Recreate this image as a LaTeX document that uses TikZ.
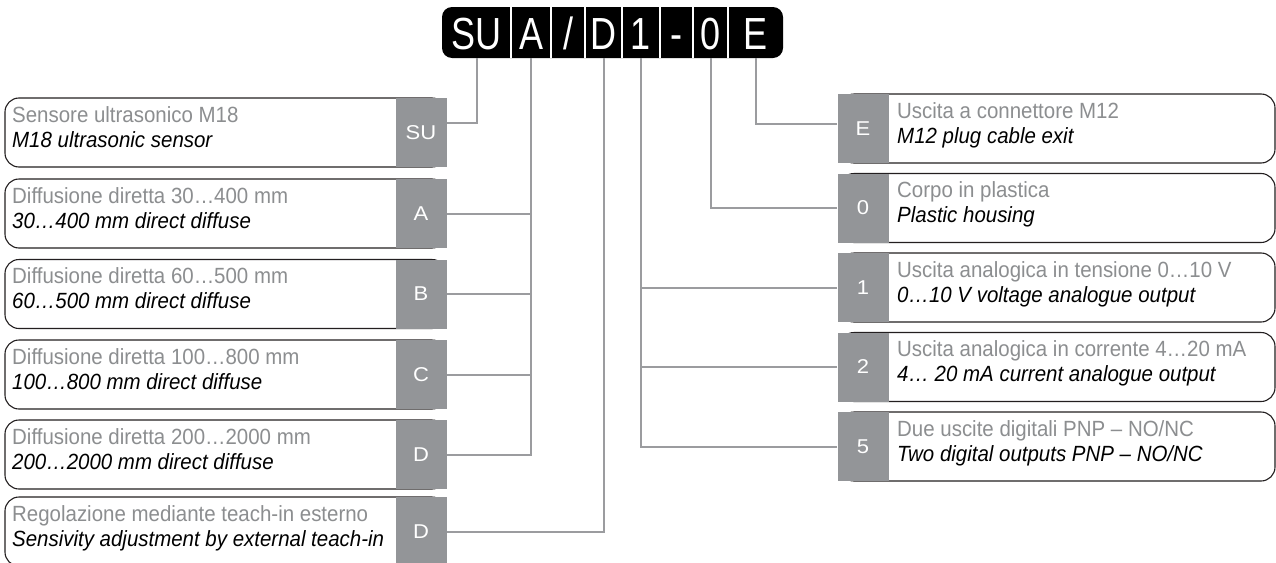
\documentclass[tikz,border=0pt]{standalone}
\usepackage{fontspec}
\setmainfont{Liberation Sans}
\newfontfamily\bodyfont[FakeStretch=0.93]{Liberation Sans}
\newfontfamily\hdrfont[FakeStretch=0.8]{Liberation Sans}
\newfontfamily\tagfont[FakeStretch=1.1]{Liberation Sans}
\usepackage{tikz}
\usepackage{xcolor}
\usetikzlibrary{positioning, calc}
\definecolor{tagGray}{HTML}{939598}
\definecolor{wireGray}{HTML}{9B9C9F}
\definecolor{itGray}{HTML}{8C8E90}
\definecolor{edgeDark}{HTML}{231F20}

\begin{document}
\begin{tikzpicture}[
  x=1pt, y=-1pt,
  hcell/.style={minimum height=51pt, inner sep=0pt, text=white, text height=33pt, text depth=0pt, font=\hdrfont\fontsize{45}{45}\selectfont},
  tag/.style={fill=tagGray, text=white, minimum width=51pt, minimum height=69pt, inner sep=0pt, font=\tagfont\fontsize{20}{20}\selectfont},
  lbox/.style={draw=edgeDark, line width=1.1pt, fill=white, rounded corners=14pt, minimum height=69pt, minimum width=441pt, inner sep=0pt},
  rbox/.style={lbox, minimum width=435pt},
  ita/.style={anchor=base west, inner sep=0pt, text=itGray, font=\bodyfont\fontsize{22}{22}\selectfont},
  eng/.style={anchor=base west, inner sep=0pt, font=\bodyfont\itshape\fontsize{22}{22}\selectfont},
  wire/.style={draw=wireGray, line width=2pt}
]
\useasboundingbox (0,0) rectangle (1276,562);

% Code header
\fill[black, rounded corners=10pt] (442,7) rectangle (783,58);
\node[hcell, minimum width=69pt] (hSU) at (476.5,32.5) {SU};
\node[hcell, minimum width=40pt] (hA) at (531,32.5) {A};
\node[hcell, minimum width=34pt] (hSl) at (568,32.5) {/};
\node[hcell, minimum width=37pt] (hD) at (603.5,32.5) {D};
\node[hcell, minimum width=38pt] (h1) at (641,32.5) {1};
\node[hcell, minimum width=33pt] (hDash) at (676.5,32.5) {-};
\node[hcell, minimum width=35pt] (h0) at (710.5,32.5) {0};
\node[hcell, minimum width=55pt] (hE) at (755.5,32.5) {E};
\draw[white, line width=2.5pt] (hSU.north east) -- (hSU.south east) (hA.north east) -- (hA.south east)
  (hSl.north east) -- (hSl.south east) (hD.north east) -- (hD.south east) (h1.north east) -- (h1.south east)
  (hDash.north east) -- (hDash.south east) (h0.north east) -- (h0.south east);

% Left column
\node[lbox] (bSU) at (225.5,132.5) {};
\node[tag] (tSU) at (421,132.5) {SU};
\node[ita] (iSU) at (12,122) {Sensore ultrasonico M18};
\node[eng] (eSU) at (12,147) {M18 ultrasonic sensor};

\node[lbox] (bA) at (225.5,213.5) {};
\node[tag] (tA) at (421,213.5) {A};
\node[ita] (iA) at (12,203) {Diffusione diretta 30…400 mm};
\node[eng] (eA) at (12,228) {30…400 mm direct diffuse};

\node[lbox] (bB) at (225.5,294) {};
\node[tag] (tB) at (421,294) {B};
\node[ita] (iB) at (12,283.5) {Diffusione diretta 60…500 mm};
\node[eng] (eB) at (12,308.5) {60…500 mm direct diffuse};

\node[lbox] (bC) at (225.5,374.5) {};
\node[tag] (tC) at (421,374.5) {C};
\node[ita] (iC) at (12,364) {Diffusione diretta 100…800 mm};
\node[eng] (eC) at (12,389) {100…800 mm direct diffuse};

\node[lbox] (bD) at (225.5,454.5) {};
\node[tag] (tD) at (421,454.5) {D};
\node[ita] (iD) at (12,444) {Diffusione diretta 200…2000 mm};
\node[eng] (eD) at (12,469) {200…2000 mm direct diffuse};

\node[lbox] (bTeach) at (225.5,531.5) {};
\node[tag] (tTeach) at (421,531.5) {D};
\node[ita] (iTeach) at (12,521) {Regolazione mediante teach-in esterno};
\node[eng] (eTeach) at (12,546) {Sensivity adjustment by external teach-in};

% Right column
\node[rbox] (bE) at (1057.5,128.5) {};
\node[tag] (tE) at (863,128.5) {E};
\node[ita] (iE) at (897,118) {Uscita a connettore M12};
\node[eng] (eE) at (897,143) {M12 plug cable exit};

\node[rbox] (b0) at (1057.5,208) {};
\node[tag] (t0) at (863,208) {0};
\node[ita] (i0) at (897,197.5) {Corpo in plastica};
\node[eng] (e0) at (897,222.5) {Plastic housing};

\node[rbox] (b1) at (1057.5,287.5) {};
\node[tag] (t1) at (863,287.5) {1};
\node[ita] (i1) at (897,277) {Uscita analogica in tensione 0…10 V};
\node[eng] (e1) at (897,302) {0…10 V voltage analogue output};

\node[rbox] (b2) at (1057.5,367) {};
\node[tag] (t2) at (863,367) {2};
\node[ita] (i2) at (897,356.5) {Uscita analogica in corrente 4…20 mA};
\node[eng] (e2) at (897,381.5) {4… 20 mA current analogue output};

\node[rbox] (b5) at (1057.5,446.5) {};
\node[tag] (t5) at (863,446.5) {5};
\node[ita] (i5) at (897,436) {Due uscite digitali PNP – NO/NC};
\node[eng] (e5) at (897,461) {Two digital outputs PNP – NO/NC};

% Wires from the code letters
\draw[wire] ([yshift=9.5pt]tSU.east) -| (hSU.south);
\draw[wire] (tA.east) -| (hA.south);
\draw[wire] (tB.east) -| (hA.south);
\draw[wire] (tC.east) -| (hA.south);
\draw[wire] (tD.east) -| (hA.south);
\draw[wire] (tTeach.east) -| (hD.south);
\draw[wire] (t1.west) -| (h1.south);
\draw[wire] (t2.west) -| (h1.south);
\draw[wire] (t5.west) -| (h1.south);
\draw[wire] (t0.west) -| (h0.south);
\draw[wire] ([yshift=4.5pt]tE.west) -| (hE.south);

\end{tikzpicture}
\end{document}
